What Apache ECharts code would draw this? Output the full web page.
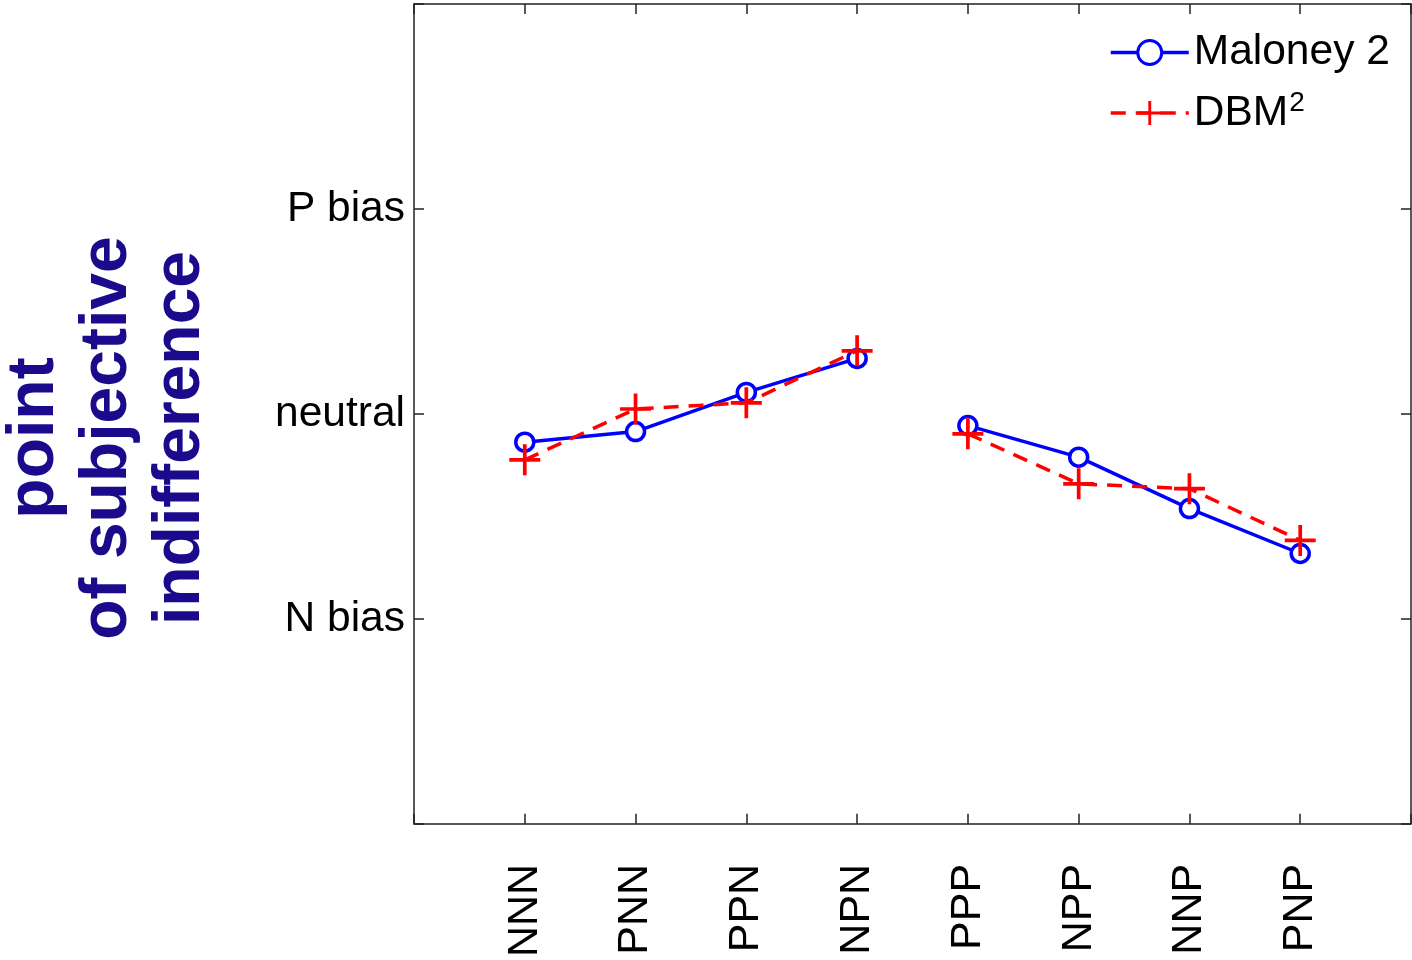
<!DOCTYPE html>
<html>
<head>
<meta charset="utf-8">
<script src="https://cdn.jsdelivr.net/npm/echarts@6/dist/echarts.min.js"></script>
<style>html,body{margin:0;padding:0;background:#fff}#c{width:1412px;height:960px}</style>
</head>
<body>
<div id="c"></div>
<script>
const categories = ['NNN','PNN','PPN','NPN','PPP','NPP','NNP','PNP'];
const maloney2 = [-0.138, -0.086, 0.105, 0.271, -0.057, -0.211, -0.462, -0.681];
const dbm2 = [-0.224, 0.024, 0.054, 0.308, -0.097, -0.341, -0.365, -0.617];
const yTickLabels = {'-1': 'N bias', '0': 'neutral', '1': 'P bias'};
const breakAfter = 4; // gap between 4th and 5th condition

const FONT = 'Liberation Sans, Arial, Helvetica, sans-serif';
const AX = '#222';

function toSeriesData(vals) {
  const out = [];
  vals.forEach((v, i) => {
    if (i === breakAfter) out.push([breakAfter + 0.5, '-']);
    out.push([i + 1, v]);
  });
  return out;
}

const plusPath = 'path://M-1.8,-15 L1.8,-15 L1.8,-1.8 L15,-1.8 L15,1.8 L1.8,1.8 L1.8,15 L-1.8,15 L-1.8,1.8 L-15,1.8 L-15,-1.8 L-1.8,-1.8 Z';

const chart = echarts.init(document.getElementById('c'), null, {renderer: 'canvas'});
const xCommon = {
  type: 'value', min: 0, max: categories.length + 1, interval: 1,
  splitLine: {show: false},
  axisLine: {show: true, onZero: false, lineStyle: {color: AX, width: 1.5}},
  axisTick: {show: true, inside: true, length: 10, lineStyle: {color: AX, width: 1.5}}
};
const yCommon = {
  type: 'value', min: -2, max: 2, interval: 1,
  splitLine: {show: false},
  axisLine: {show: true, onZero: false, lineStyle: {color: AX, width: 1.5}},
  axisTick: {show: true, inside: true, length: 10, lineStyle: {color: AX, width: 1.5}}
};
chart.setOption({
  animation: false,
  backgroundColor: '#fff',
  textStyle: {fontFamily: FONT},
  grid: {left: 414, top: 4, right: 1, bottom: 134, containLabel: false},
  xAxis: [
    Object.assign({}, xCommon, {
      position: 'bottom',
      axisLabel: {
        rotate: 90, margin: 40, fontSize: 43, color: '#000', fontFamily: FONT,
        formatter: v => (v >= 1 && v <= categories.length) ? categories[v - 1] : ''
      }
    }),
    Object.assign({}, xCommon, {position: 'top', axisLabel: {show: false}})
  ],
  yAxis: [
    Object.assign({}, yCommon, {
      position: 'left',
      axisLabel: {
        margin: 9, fontSize: 42.5, color: '#000', fontFamily: FONT,
        formatter: v => yTickLabels[String(v)] || ''
      }
    }),
    Object.assign({}, yCommon, {position: 'right', axisLabel: {show: false}})
  ],
  legend: {
    orient: 'vertical', left: 1104, top: 26, itemWidth: 78, itemHeight: 30, itemGap: 15,
    data: [
      {name: 'Maloney 2', itemStyle: {borderWidth: 3}},
      {name: 'DBM2'}
    ],
    lineStyle: {width: 3.5},
    textStyle: {
      fontSize: 42.5, color: '#000', fontFamily: FONT,
      rich: {
        sup: {fontSize: 28, color: '#000', fontFamily: FONT, verticalAlign: 'top', padding: [0, 0, 20, 1]}
      }
    },
    formatter: name => name === 'DBM2' ? 'DBM{sup|2}' : name
  },
  graphic: [{
    type: 'text',
    x: 108, y: 438,
    rotation: Math.PI / 2,
    style: {
      text: 'point\nof subjective\nindifference',
      fontSize: 66, fontWeight: 'bold', fontFamily: FONT,
      fill: '#1b0a8c', align: 'center', verticalAlign: 'middle', lineHeight: 73
    }
  }],
  series: [
    {
      name: 'Maloney 2', type: 'line', data: toSeriesData(maloney2),
      connectNulls: false,
      symbol: 'circle', symbolSize: 18,
      lineStyle: {color: '#0000ff', width: 3.5},
      itemStyle: {color: '#fff', borderColor: '#0000ff', borderWidth: 3.5},
      z: 3
    },
    {
      name: 'DBM2', type: 'line', data: toSeriesData(dbm2),
      connectNulls: false,
      symbol: plusPath, symbolSize: 31,
      lineStyle: {color: '#ff0000', width: 3.5, type: [15, 10]},
      itemStyle: {color: '#ff0000', borderWidth: 0},
      z: 4
    }
  ]
});
</script>
</body>
</html>
